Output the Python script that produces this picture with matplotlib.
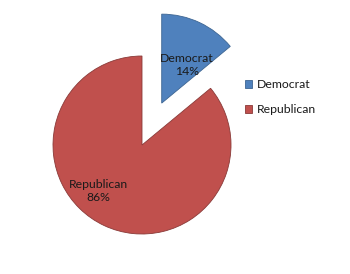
import matplotlib
matplotlib.use('Agg')
import matplotlib.pyplot as plt

partidos = ['Democrat', 'Republican']
valores = [14, 86]
colores = ['#4F81BD', '#C0504D']
separar = [0.52, 0]

plt.rcParams['font.family'] = ['Lato', 'DejaVu Sans']

fig = plt.figure(figsize=(3.5, 2.74), dpi=100)
ax = fig.add_axes([0, 0, 1, 1])

# centro del pastel en (142,145) px, radio 89 px
cx, cy, r = 142, 129, 89
wedges, _ = ax.pie(valores, colors=colores, startangle=90, counterclock=False,
                   explode=separar, radius=1,
                   wedgeprops=dict(linewidth=0.6, edgecolor='#8a3a38'))
wedges[0].set_edgecolor('#3d6592')

ax.set_xlim(-cx / r, (350 - cx) / r)
ax.set_ylim(-cy / r, (274 - cy) / r)
ax.set_aspect('auto')
ax.axis('off')

# etiquetas dentro de las rebanadas
pos_etiquetas = [(0.506, 0.90), (-0.494, -0.52)]
for nombre, v, (x, y) in zip(partidos, valores, pos_etiquetas):
    ax.text(x, y, f'{nombre}\n{v}%', ha='center', va='center', fontsize=8.8,
            color='#1a1a1a', linespacing=1.25)

fig.legend(wedges, partidos, loc='upper left', bbox_to_anchor=(0.668, 0.752),
           frameon=False, fontsize=8.8, handlelength=0.62, handleheight=0.62,
           handletextpad=0.4, labelspacing=1.15, labelcolor='#1a1a1a')

fig.savefig('out.png', dpi=100)
